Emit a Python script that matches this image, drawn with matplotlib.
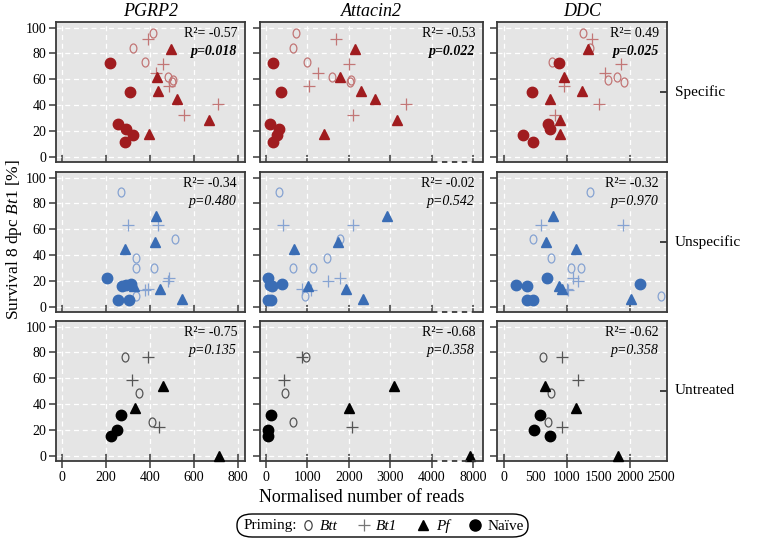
import numpy as np
import matplotlib
matplotlib.use('Agg')
import matplotlib.pyplot as plt
from matplotlib.markers import MarkerStyle
from matplotlib.transforms import Affine2D, offset_copy
from matplotlib.lines import Line2D
from matplotlib.patches import FancyBboxPatch

plt.rcParams['font.family'] = ['Liberation Serif', 'DejaVu Serif']
plt.rcParams['mathtext.fontset'] = 'custom'
plt.rcParams['mathtext.rm'] = 'Liberation Serif'
plt.rcParams['mathtext.it'] = 'Liberation Serif:italic'

# ---------------- data ----------------
genes = ['PGRP2', 'Attacin2', 'DDC']
treatments = ['Specific', 'Unspecific', 'Untreated']
groups = ['Btt', 'Bt1', 'Pf', 'Naïve']

# survival (%) per treatment and priming group
surv_specific = {'Btt': [95.5, 84, 73, 62, 59.5, 57.5],
                 'Bt1': [91, 71.5, 64.5, 55, 41, 32],
                 'Pf': [83.5, 61.5, 50.5, 45, 28, 17.5],
                 'Naïve': [72.5, 50, 25, 21.5, 16.5, 11.5]}
surv_unspecific = {'Btt': [89, 52.8, 38, 29.8, 29.8, 8],
                   'Bt1': [63, 63, 22, 19.5, 13.6, 13],
                   'Pf': [70, 50.2, 44.4, 16.2, 14, 5.5],
                   'Naïve': [22, 17.5, 16.5, 16, 5, 5]}
surv_untreated = {'Btt': [76.4, 48.5, 26.2],
                  'Bt1': [76.4, 59, 22.3],
                  'Pf': [53.8, 37.2, 0],
                  'Naïve': [31.4, 20, 15]}

# normalised reads per gene / treatment / group
reads_pgrp2_specific = {'Btt': [415, 321, 379, 480, 507, 498],
                        'Bt1': [389, 460, 427, 485, 710, 556],
                        'Pf': [495, 430, 438, 521, 670, 397],
                        'Naïve': [218, 310, 253, 291, 321, 285]}
reads_attacin2_specific = {'Btt': [715, 658, 996, 1598, 2060, 2030],
                           'Bt1': [1679, 2000, 1261, 1036, 3390, 2100],
                           'Pf': [2150, 1783, 2305, 2627, 3173, 1398],
                           'Naïve': [161, 361, 104, 321, 273, 161]}
reads_ddc_specific = {'Btt': [1259, 1360, 757, 1800, 1650, 1900],
                      'Bt1': [1400, 1850, 1600, 952, 1500, 810],
                      'Pf': [1338, 952, 1233, 730, 889, 883],
                      'Naïve': [878, 439, 704, 730, 307, 455]}

reads_pgrp2_unspecific = {'Btt': [268, 515, 336, 336, 420, 336],
                          'Bt1': [298, 435, 488, 482, 390, 379],
                          'Pf': [427, 424, 286, 329, 447, 545],
                          'Naïve': [207, 313, 290, 275, 253, 303]}
reads_attacin2_unspecific = {'Btt': [313, 1783, 1477, 658, 1125, 940],
                             'Bt1': [417, 2104, 1783, 1502, 860, 1084],
                             'Pf': [2923, 1743, 683, 1005, 1928, 2345],
                             'Naïve': [56, 378, 100, 137, 56, 112]}
reads_ddc_unspecific = {'Btt': [1365, 465, 746, 1058, 1217, 2490],
                        'Bt1': [582, 1890, 1100, 1180, 995, 1010],
                        'Pf': [773, 667, 1143, 878, 916, 2016],
                        'Naïve': [677, 2160, 190, 360, 370, 465]}

reads_pgrp2_untreated = {'Btt': [286, 348, 409],
                         'Bt1': [389, 318, 442],
                         'Pf': [460, 332, 715],
                         'Naïve': [268, 248, 223]}
reads_attacin2_untreated = {'Btt': [968, 458, 658],
                            'Bt1': [862, 434, 2065],
                            'Pf': [3084, 2000, 7750],
                            'Naïve': [113, 56, 56]}
reads_ddc_untreated = {'Btt': [624, 741, 703],
                       'Bt1': [916, 1180, 916],
                       'Pf': [651, 1143, 1810],
                       'Naïve': [571, 481, 730]}

r2_values = [['-0.57', '-0.53', '0.49'],
             ['-0.34', '-0.02', '-0.32'],
             ['-0.75', '-0.68', '-0.62']]
p_values = [['0.018', '0.022', '0.025'],
            ['0.480', '0.542', '0.970'],
            ['0.135', '0.358', '0.358']]
significant = [True, False, False]

x_ticks = [[0, 200, 400, 600, 800], [0, 1000, 2000, 3000, 4000, 8000], [0, 1000, 2000]]
x_minor_labels = [[], [], [500, 1500, 2500]]
y_ticks = [0, 20, 40, 60, 80, 100]

survival = [surv_specific, surv_unspecific, surv_untreated]
reads = [[reads_pgrp2_specific, reads_attacin2_specific, reads_ddc_specific],
         [reads_pgrp2_unspecific, reads_attacin2_unspecific, reads_ddc_unspecific],
         [reads_pgrp2_untreated, reads_attacin2_untreated, reads_ddc_untreated]]

# ---------------- style ----------------
dark_cols = ['#a01c1f', '#3a6db5', '#000000']
light_cols = ['#c27676', '#86a3d2', '#555555']
spine_col = '#3a3a3a'
bg = '#e5e5e5'

W, H = 762, 546
fig = plt.figure(figsize=(W / 100, H / 100), dpi=100)
col_px = [(56, 245), (260, 483), (497, 667)]
row_px = [(22, 162), (172, 312), (321, 461)]
xlims = [(-27, 832), (-145, 5240), (-111, 2587)]
ylim = (-4.2, 104.4)


def brk(v):
    v = np.asarray(v, float)
    return np.where(v <= 4000, v, 4000 + (v - 4000) / 4.0)


xforms = [lambda v: np.asarray(v, float), brk, lambda v: np.asarray(v, float)]

o_marker = MarkerStyle('o', fillstyle='none', transform=Affine2D().scale(0.75, 1.0))

for r in range(3):
    for c in range(3):
        x0, x1 = col_px[c]
        y0, y1 = row_px[r]
        ax = fig.add_axes([x0 / W, 1 - y1 / H, (x1 - x0) / W, (y1 - y0) / H])
        ax.set_facecolor(bg)
        ax.set_xlim(*xlims[c])
        ax.set_ylim(*ylim)
        f = xforms[c]
        surv = survival[r]
        rd = reads[r][c]
        dc, lc = dark_cols[r], light_cols[r]
        ax.plot(f(rd['Btt']), surv['Btt'], ls='none', marker=o_marker, ms=6.5,
                mec=lc, mew=0.9, zorder=3, clip_on=False)
        ax.plot(f(rd['Bt1']), surv['Bt1'], ls='none', marker='+', ms=9,
                mec=lc, mew=0.9, zorder=3)
        ax.plot(f(rd['Pf']), surv['Pf'], ls='none', marker='^', ms=6.5,
                mfc=dc, mec=dc, zorder=4, clip_on=False)
        ax.plot(f(rd['Naïve']), surv['Naïve'], ls='none', marker='o', ms=7.5,
                mfc=dc, mec=dc, zorder=4, clip_on=False)

        # ticks
        xt = x_ticks[c]
        ax.set_xticks(f(xt))
        if r == 2:
            ax.set_xticklabels([str(t) for t in xt], fontsize=10)
            ax.tick_params(axis='x', direction='inout', length=10, width=1.1,
                           color=spine_col, pad=2)
            if x_minor_labels[c]:
                ax.set_xticks(x_minor_labels[c], minor=True,
                              labels=[str(t) for t in x_minor_labels[c]])
                ax.tick_params(axis='x', which='minor', length=0, labelsize=10, pad=7)
        else:
            ax.set_xticklabels([])
            ax.tick_params(axis='x', direction='in', length=5, width=1.1, color=spine_col)
        ax.set_yticks(y_ticks)
        if c == 0:
            ax.set_yticklabels([str(t) for t in y_ticks], fontsize=10)
        else:
            ax.set_yticklabels([])
        ax.tick_params(axis='y', direction='out', length=5, width=1.1, color=spine_col, pad=2)
        ax.grid(True, which='major', color='white', ls=(0, (4, 3)), lw=0.9)
        ax.set_axisbelow(True)
        for s in ax.spines.values():
            s.set_color(spine_col)
            s.set_linewidth(1.3)

        if c == 1:
            ax.spines['bottom'].set_visible(False)
            tr = ax.get_xaxis_transform()
            ax.plot([xlims[1][0], 4000], [0, 0], transform=tr, color=spine_col, lw=1.3,
                    clip_on=False, zorder=5, solid_capstyle='butt')
            ax.plot([4000, 5000], [0, 0], transform=tr, color=spine_col, lw=1.3,
                    ls=(0, (3, 2.5)), clip_on=False, zorder=5)
            ax.plot([5000, xlims[1][1]], [0, 0], transform=tr, color=spine_col, lw=1.3,
                    clip_on=False, zorder=5, solid_capstyle='butt')

        # stats text
        weight = 'bold' if significant[r] else 'normal'
        tr1 = offset_copy(ax.transAxes, fig=fig, x=-8, y=-15, units='dots')
        ax.text(1, 1, 'R²= ' + r2_values[r][c], transform=tr1, ha='right',
                va='baseline', fontsize=10)
        tr2 = offset_copy(ax.transAxes, fig=fig, x=-8, y=-33, units='dots')
        ax.text(1, 1, 'p=' + p_values[r][c], transform=tr2, ha='right',
                va='baseline', fontsize=10, style='italic', weight=weight)

        if r == 0:
            ax.set_title(genes[c], style='italic', fontsize=13, pad=4)
        if c == 2:
            ax.plot([1, 1], [0.5, 0.5], transform=ax.transAxes, ls='none',
                    marker=0, ms=5, mew=1.1, color=spine_col, clip_on=False)
            ax.text(1.0, 0.5, treatments[r], transform=offset_copy(ax.transAxes, fig=fig,
                    x=8, y=0, units='dots'), ha='left', va='center', fontsize=11)

fig.text(362 / W, 1 - 498 / H, 'Normalised number of reads', ha='center', va='center',
         fontsize=13)
fig.text(14 / W, 1 - 240 / H, 'Survival 8 dpc $\\mathit{Bt1}$ [%]', rotation=90,
         ha='center', va='center', fontsize=12.5)

# legend
box = FancyBboxPatch((237 / W, 1 - 537 / H), (528 - 237) / W, 23 / H,
                     boxstyle='round,pad=0,rounding_size=0.02',
                     transform=fig.transFigure, fc='white', ec='black', lw=1.0)
fig.patches.append(box)
ly = 1 - 526 / H
fig.text(244 / W, ly, 'Priming:', ha='left', va='center', fontsize=11)
handles = [Line2D([], [], ls='none', marker=o_marker, ms=7, mec='#444444', mew=0.9),
           Line2D([], [], ls='none', marker='+', ms=9, mec='#777777', mew=0.9),
           Line2D([], [], ls='none', marker='^', ms=7, mfc='black', mec='black'),
           Line2D([], [], ls='none', marker='o', ms=8, mfc='black', mec='black')]
leg = fig.legend(handles, groups, loc='center', bbox_to_anchor=(412 / W, ly), ncol=4,
                 frameon=False, fontsize=11, handlelength=1.0, handletextpad=0.3,
                 columnspacing=1.2, borderpad=0)
for t, it in zip(leg.get_texts(), [True, True, True, False]):
    if it:
        t.set_style('italic')

fig.savefig('out.png', dpi=100)
